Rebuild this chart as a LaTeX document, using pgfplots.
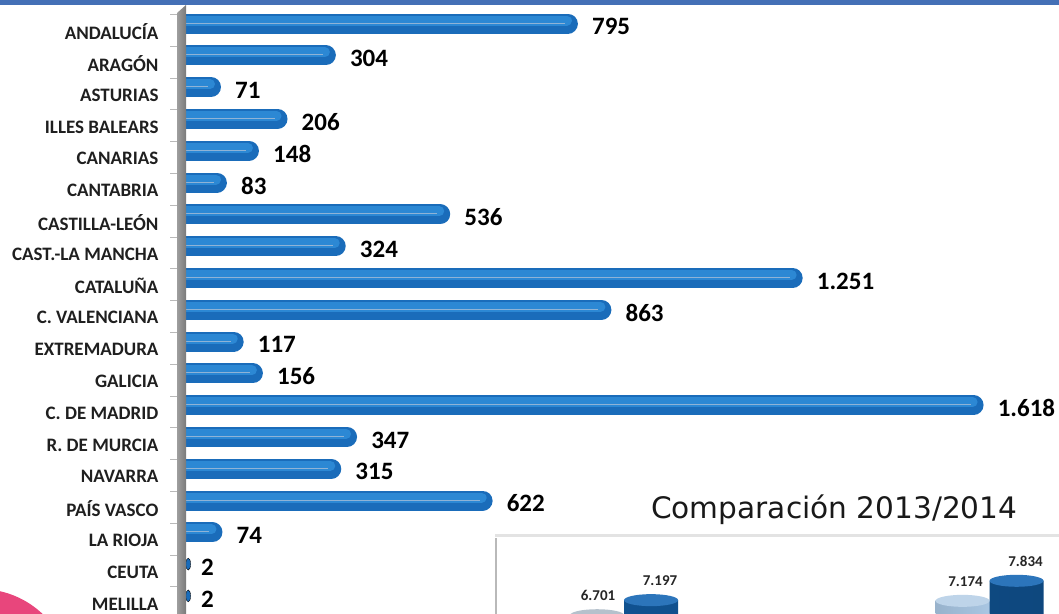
\documentclass[border=0pt]{standalone}
\usepackage{pgfplots}
\pgfplotsset{compat=1.18}
\usepackage{pgfplotstable}
\usepackage{fontspec}
\setmainfont{Carlito}
\newfontfamily\dejavu{DejaVu Sans}
\definecolor{bandblue}{HTML}{4470B6}
\definecolor{barbase}{HTML}{1A6CBA}
\definecolor{barhi}{HTML}{2C88D4}
\definecolor{barline}{HTML}{8FB3D6}
\definecolor{pinkc}{HTML}{E8467C}
\definecolor{cylblue}{HTML}{1466B4}
\definecolor{cylgray}{HTML}{95A6B6}
\definecolor{cyllight}{HTML}{A9C6E2}
\pgfdeclareplotmark{cyltop}{\pgfpathellipse{\pgfpointorigin}{\pgfqpoint{27pt}{0pt}}{\pgfqpoint{0pt}{6pt}}\pgfusepathqfill}

\pgfplotstableread{
x y lab
795 0 795
304 1 304
71 2 71
206 3 206
148 4 148
83 5 83
536 6 536
324 7 324
1251 8 1.251
863 9 863
117 10 117
156 11 156
1618 12 1.618
347 13 347
315 14 315
622 15 622
74 16 74
2 17 2
2 18 2
}\valtab

\newcommand\hb[2]{%
  \addplot[line width=20pt, line cap=round, color=barbase, shorten >=10pt] coordinates {(0,#2) (#1,#2)};
  \addplot[line width=10pt, line cap=round, color=barhi, shorten >=11pt, yshift=3pt] coordinates {(0,#2) (#1,#2)};
  \addplot[line width=0.9pt, color=barline, shorten >=13pt, yshift=0.5pt] coordinates {(0,#2) (#1,#2)};
}

\begin{document}
\begin{tikzpicture}[x=1pt,y=1pt]
\coordinate (mainpos) at (186,1.2);
\coordinate (insetpos) at (514.4,-87);
% pink circle bottom-left
\fill[pinkc] (-20,-67) circle (91);
% top band
\fill[bandblue] (0,608) rectangle (1059,613);

\begin{axis}[
  at={(mainpos)}, anchor=south west,
  scale only axis, width=838pt, height=604.2pt,
  xmin=0, xmax=1700, ymin=-0.5, ymax=18.5, y dir=reverse,
  hide x axis, axis line style={draw=none},
  clip mode=individual,
  ytick={0,...,18},
  yticklabels={ANDALUCÍA,ARAGÓN,ASTURIAS,ILLES BALEARS,CANARIAS,CANTABRIA,CASTILLA-LEÓN,CAST.-LA MANCHA,CATALUÑA,C. VALENCIANA,EXTREMADURA,GALICIA,C. DE MADRID,R. DE MURCIA,NAVARRA,PAÍS VASCO,LA RIOJA,CEUTA,MELILLA},
  ytick pos=left, tick align=outside, major tick length=16pt,
  ytick style={draw=none},
  yticklabel style={font=\bfseries\fontsize{19}{19}\selectfont, text=black!88, yshift=-8pt, xshift=-8pt},
  extra y ticks={-0.283,0.717,1.717,2.717,3.717,4.717,5.717,6.717,7.717,8.717,9.717,10.717,11.717,12.717,13.717,14.717,15.717,16.717,17.717},
  extra y tick labels={},
  extra y tick style={ytick style={draw=gray!55, line width=1pt}},
]
\hb{795}{0}
\hb{304}{1}
\hb{71}{2}
\hb{206}{3}
\hb{148}{4}
\hb{83}{5}
\hb{536}{6}
\hb{324}{7}
\hb{1251}{8}
\hb{863}{9}
\hb{117}{10}
\hb{156}{11}
\hb{1618}{12}
\hb{347}{13}
\hb{315}{14}
\hb{622}{15}
\hb{74}{16}
\addplot[only marks, mark=*, mark size=6pt, mark options={xscale=0.4, fill=barbase, draw=none, xshift=3pt}] coordinates {(2,17) (2,18)};
\addplot[draw=none, nodes near coords, point meta=explicit symbolic,
  every node near coord/.append style={anchor=west, inner sep=0pt, xshift=14pt, yshift=-3pt, font=\bfseries\fontsize{25}{25}\selectfont, text=black}]
  table[x=x, y=y, meta=lab] {\valtab};
\end{axis}

% gray wall
\shade[left color=black!38, right color=black!52] (177,-5) -- (177,600) -- (186,608) -- (186,-5) -- cycle;

% inset
\fill[white] (495,-10) rectangle (1070,78);
\draw[gray!22, line width=3pt] (495,78) -- (1070,78);
\draw[gray!55, line width=1.2pt] (496,-5) -- (496,75);
\node[anchor=base west, inner sep=0pt, font=\dejavu\fontsize{29.6}{29.6}\selectfont, text=black!90] at (651,95) {Comparación 2013/2014};

\begin{axis}[
  at={(insetpos)}, anchor=south west,
  scale only axis, width=584.8pt, height=160pt,
  xmin=-0.3, xmax=1.3, ymin=3910, ymax=9177,
  hide axis, ybar, bar width=54pt, clip=false,
]
\addplot[draw=none, bar shift=-27pt, left color=cylgray!90!black, middle color=cylgray!60!white, right color=cylgray] coordinates {(0,6701)};
\addplot[draw=none, bar shift=-27pt, left color=cyllight!90!black, middle color=cyllight!60!white, right color=cyllight] coordinates {(1,7174)};
\addplot[only marks, bar shift=0pt, mark=cyltop, mark options={fill=cylgray!70!white, xshift=-27pt}, nodes near coords, point meta=explicit symbolic,
  every node near coord/.append style={anchor=south, inner sep=0pt, yshift=14pt, xshift=1pt, font=\bfseries\fontsize{15}{15}\selectfont, text=black!85}] coordinates {(0,6701) [6.701]};
\addplot[only marks, bar shift=0pt, mark=cyltop, mark options={fill=cyllight!75!white, xshift=-27pt}, nodes near coords, point meta=explicit symbolic,
  every node near coord/.append style={anchor=south, inner sep=0pt, yshift=14pt, xshift=3pt, font=\bfseries\fontsize{15}{15}\selectfont, text=black!85}] coordinates {(1,7174) [7.174]};
\addplot[draw=none, bar shift=27pt, left color=cylblue!80!black, middle color=cylblue!75!white, right color=cylblue!70!black] coordinates {(0,7197) (1,7834)};
\addplot[only marks, bar shift=0pt, mark=cyltop, mark options={fill=cylblue!90!white, xshift=27pt}, nodes near coords, point meta=explicit symbolic,
  every node near coord/.append style={anchor=south, inner sep=0pt, yshift=14pt, xshift=9pt, font=\bfseries\fontsize{15}{15}\selectfont, text=black!85}] coordinates {(0,7197) [7.197] (1,7834) [7.834]};
\end{axis}

\pgfresetboundingbox
\path[use as bounding box] (0,0) rectangle (1059,613);
\end{tikzpicture}
\end{document}
